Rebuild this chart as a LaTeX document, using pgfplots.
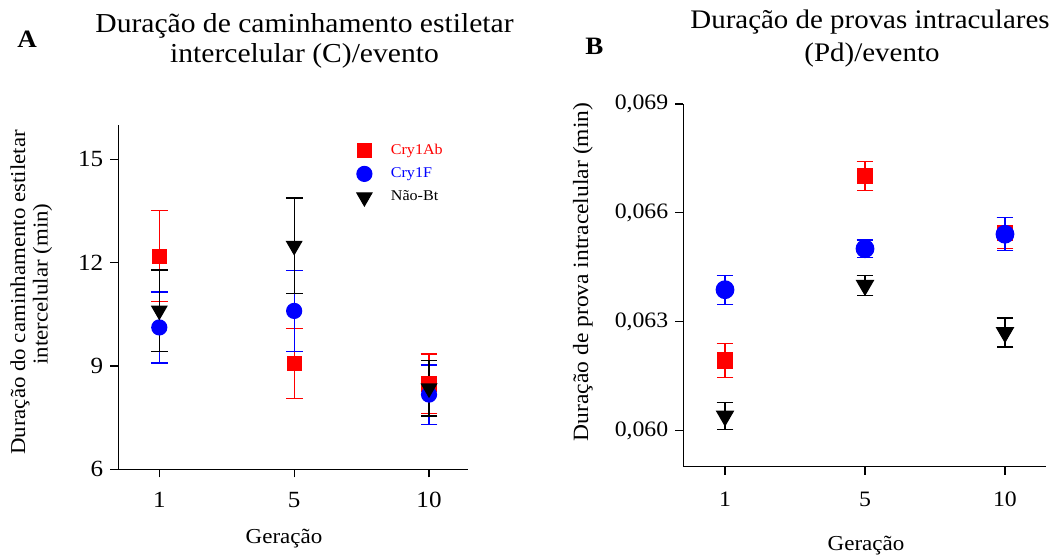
\documentclass[border=0pt]{standalone}
\usepackage{fontspec}
\setmainfont{Liberation Serif}[FakeStretch=1.08]
\usepackage{pgfplots}
\pgfplotsset{compat=1.18}
\usepackage{pgfplotstable}

\pgfplotstableread{
x y e
0 12.19 1.32
1 9.08 1.02
2 8.48 0.87
}\AbA
\pgfplotstableread{
x y e
0 10.12 1.03
1 10.60 1.18
2 8.17 0.86
}\FA
\pgfplotstableread{
x y e
0 10.61 1.18
1 12.49 1.39
2 8.35 0.80
}\NA
\pgfplotstableread{
x y e
0 0.06193 0.00046
1 0.06702 0.00040
2 0.06545 0.00043
}\AbB
\pgfplotstableread{
x y e
0 0.06388 0.00040
1 0.06501 0.00024
2 0.06541 0.00045
}\FB
\pgfplotstableread{
x y e
0 0.06040 0.00037
1 0.06400 0.00028
2 0.06270 0.00040
}\NB

\definecolor{cred}{RGB}{255,0,0}
\definecolor{cblue}{RGB}{0,0,255}

\pgfplotsset{
  base/.style={
    scale only axis,
    axis x line*=bottom, axis y line*=left,
    tick align=outside, major tick length=4pt,
    axis line style={line width=0.6pt, black},
    tick style={line width=0.6pt, black},
    /pgf/number format/assume math mode=true,
    xtick={0,1,2}, xticklabels={1,5,10},
    clip=false,
  },
  eb/.style={only marks, line width=0.6pt,
    error bars/.cd, y dir=both, y explicit,
    error bar style={line width=0.6pt},
    error mark options={rotate=90, mark size=4.2pt, line width=0.6pt, #1}},
}

\begin{document}
\begin{tikzpicture}
\path[use as bounding box] (0pt,0pt) rectangle (531pt,279pt);

% Panel A
\begin{axis}[base,
  at={(59.15pt,44.35pt)}, anchor=south west,
  width=174.85pt, height=172.15pt,
  xmin=-0.304, xmax=2.289, ymin=6, ymax=16,
  ytick={6,9,12,15},
  tick label style={font=\fontsize{11.6}{13}\selectfont},
  xticklabel style={yshift=-4pt},
  legend style={at={(rel axis cs:0.664,0.97)}, anchor=north west, draw=none, fill=none,
     font=\fontsize{7.45}{8.5}\selectfont, row sep=1.2pt, column sep=7.5pt},
  legend cell align=left,
]
\addplot+[cred, mark=square*, mark size=3.5pt, mark options={cred}, eb=cred] table[x=x,y=y,y error=e]{\AbA};
\addlegendentry{\textcolor{cred}{Cry1Ab}}
\addplot+[cblue, mark=*, mark size=3.75pt, mark options={cblue}, eb=cblue] table[x=x,y=y,y error=e]{\FA};
\addlegendentry{\textcolor{cblue}{Cry1F}}
\addplot+[black, mark=triangle*, mark size=4.3pt, mark options={black, rotate=180}, eb=black] table[x=x,y=y,y error=e]{\NA};
\addlegendentry{Não-Bt}
\end{axis}

% Panel B
\begin{axis}[base,
  at={(341.65pt,45.65pt)}, anchor=south west,
  width=181.35pt, height=181.35pt,
  xmin=-0.298, xmax=2.293, ymin=0.059, ymax=0.069,
  ytick={0.060,0.063,0.066,0.069},
  scaled y ticks=false,
  yticklabel style={/pgf/number format/.cd, fixed, fixed zerofill, precision=3, use comma},
  xticklabel style={yshift=-5pt},
  tick label style={font=\fontsize{11}{12}\selectfont},
]
\addplot+[cred, mark=square*, mark size=3.8pt, mark options={cred}, eb=cred] table[x=x,y=y,y error=e]{\AbB};
\addplot+[cblue, mark=*, mark size=4.4pt, mark options={cblue}, eb=cblue] table[x=x,y=y,y error=e]{\FB};
\addplot+[black, mark=triangle*, mark size=4.8pt, mark options={black, rotate=180}, eb=black] table[x=x,y=y,y error=e]{\NB};
\end{axis}

% Labels
\node[anchor=base west, font=\fontsize{12.5}{14}\selectfont\bfseries, inner sep=0pt] at (8.5pt,255pt) {A};
\node[anchor=base west, font=\fontsize{12.5}{14}\selectfont\bfseries, inner sep=0pt] at (292.5pt,251.5pt) {B};

\node[anchor=base, font=\fontsize{13.7}{15}\selectfont, inner sep=0pt] at (152.25pt,262.5pt) {Duração de caminhamento estiletar};
\node[anchor=base, font=\fontsize{13.7}{15}\selectfont, inner sep=0pt] at (152.25pt,247.5pt) {intercelular (C)/evento};
\node[anchor=base, font=\fontsize{13.4}{15}\selectfont, inner sep=0pt] at (435pt,264.5pt) {Duração de provas intraculares};
\node[anchor=base, font=\fontsize{13.4}{15}\selectfont, inner sep=0pt] at (436pt,248pt) {(Pd)/evento};

\node[anchor=base, rotate=90, font=\fontsize{10.6}{12}\selectfont, inner sep=0pt] at (12.5pt,132.75pt) {Duração do caminhamento estiletar};
\node[anchor=base, rotate=90, font=\fontsize{10.6}{12}\selectfont, inner sep=0pt] at (23.75pt,137pt) {intercelular (min)};
\node[anchor=base, rotate=90, font=\fontsize{10.9}{12}\selectfont, inner sep=0pt] at (294pt,143pt) {Duração de prova intracelular (min)};

\node[anchor=base, font=\fontsize{10.65}{12}\selectfont, inner sep=0pt] at (142pt,7.5pt) {Geração};
\node[anchor=base, font=\fontsize{10.65}{12}\selectfont, inner sep=0pt] at (433pt,4pt) {Geração};
\end{tikzpicture}
\end{document}
